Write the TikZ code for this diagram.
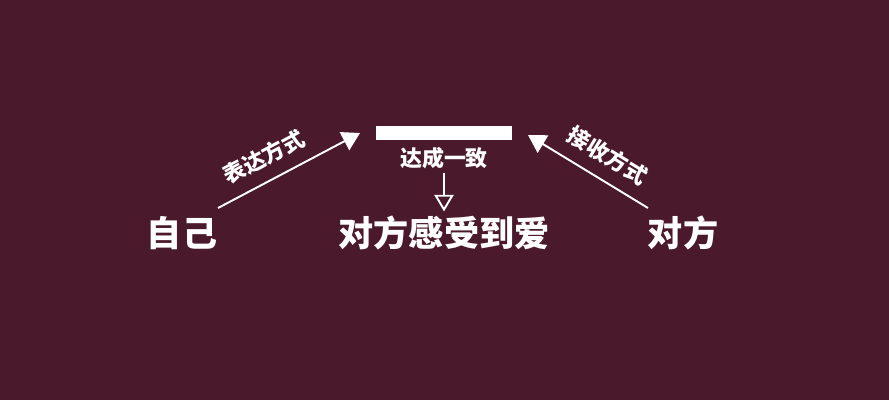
\documentclass[tikz,border=0pt]{standalone}
\usepackage{fontspec}
\setmainfont{Noto Sans CJK SC}
\usetikzlibrary{arrows.meta}
\definecolor{bgred}{RGB}{74,25,43}

\begin{document}
\begin{tikzpicture}[x=0.02cm,y=-0.02cm,line width=1.1pt,white,
  bigword/.style={inner sep=2pt,font=\fontsize{20}{20}\selectfont\bfseries},
  smallword/.style={inner sep=2pt,font=\fontsize{12.5}{12.5}\selectfont\bfseries},
  fullhead/.style={-{Triangle[width=11.5pt,length=10pt]}},
  openhead/.style={-{Triangle[open,width=11pt,length=9.5pt]}}]

% background
\fill[bgred] (0,0) rectangle (889,400);

% words
\node[bigword] (self) at (182,233) {自己};
\node[bigword] (other) at (683,233) {对方};
\node[bigword] (love) at (444,233) {对方感受到爱};

% bar
\node[fill=white,minimum width=2.72cm,minimum height=0.28cm,inner sep=0pt] (bar) at (444,133) {};
\node[smallword] (agree) at (444,158) {达成一致};

% arrows
\coordinate (selfend) at (218,208);
\coordinate (leftend) at (360,133);
\coordinate (otherend) at (648,208);
\coordinate (rightend) at (528,135);
\draw[fullhead] (selfend) -- (leftend)
  node[smallword,pos=0.4,above=5pt,sloped] (express) {表达方式};
\draw[fullhead] (otherend) -- (rightend)
  node[smallword,pos=0.44,above=5pt,sloped] (receive) {接收方式};
\draw[openhead] (agree) -- (love);

\end{tikzpicture}
\end{document}
